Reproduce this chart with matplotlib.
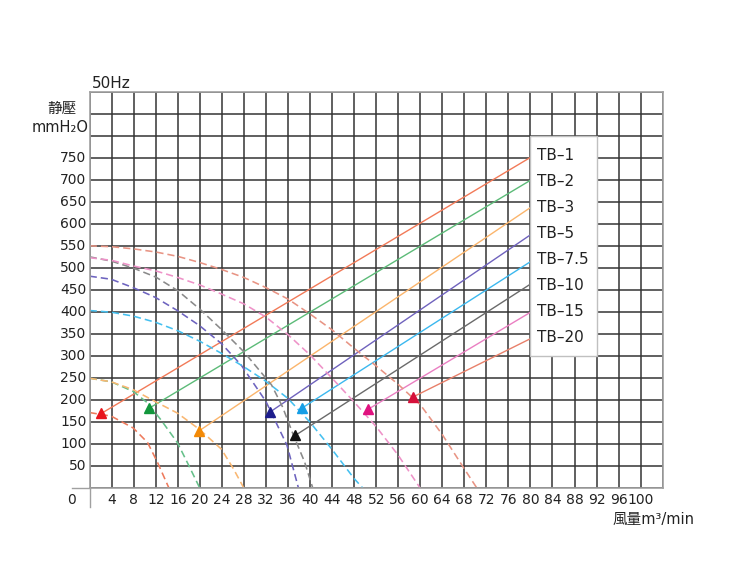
import matplotlib
matplotlib.use("Agg")
import matplotlib.pyplot as plt
from matplotlib.patches import Rectangle

plt.rcParams['font.family'] = ['DejaVu Sans', 'Noto Sans CJK TC']

# models
models = ['TB–1', 'TB–2', 'TB–3', 'TB–5', 'TB–7.5', 'TB–10', 'TB–15', 'TB–20']

# fan curves (flow m3/min, static pressure mmH2O)
q_tb1 = [0, 3.9, 7.9, 10.5, 12.3, 14.4]
p_tb1 = [172, 164, 137, 104, 59, 0]
q_tb2 = [0, 3.9, 7.9, 10.5, 12.9, 15.9, 17.7, 20]
p_tb2 = [250, 242, 220, 194, 156, 104, 59, 0]
q_tb3 = [0, 3.9, 7.9, 11.9, 15.9, 19.9, 23.9, 26.1, 28]
p_tb3 = [250, 242, 224, 197, 171, 134, 89, 44, 0]
q_tb5 = [0, 3.9, 7.9, 11.9, 15.9, 19.9, 23.9, 27.5, 32.0, 35.8, 37.9]
p_tb5 = [482, 475, 456, 434, 404, 370, 329, 280, 197, 98, 0]
q_tb75 = [0, 4, 8, 12, 16, 20, 24, 28, 32, 36, 40, 44, 48, 49.6]
p_tb75 = [404, 400, 391, 377, 358, 334, 306, 276, 243, 204, 150, 88, 22, 0]
q_tb10 = [0, 4, 8, 12, 16, 20, 24, 28, 30, 33, 35, 37, 39, 40.5]
p_tb10 = [526, 516, 500, 480, 449, 407, 360, 310, 280, 235, 185, 120, 60, 0]
q_tb15 = [0, 4, 8, 12, 16, 20, 24, 28, 32, 36, 40, 44, 48, 52, 56, 60]
p_tb15 = [524, 518, 505, 494, 479, 462, 441, 419, 389, 349, 303, 250, 196, 140, 75, 0]
q_tb20 = [0, 4, 8, 12, 16, 20, 24, 28, 32, 36, 40, 44, 48, 52, 56, 60, 64, 68, 70.3]
p_tb20 = [551, 549, 544, 537, 527, 513, 497, 479, 456, 430, 396, 360, 318, 278, 236, 190, 122, 44, 0]

fan_q = [q_tb1, q_tb2, q_tb3, q_tb5, q_tb75, q_tb10, q_tb15, q_tb20]
fan_p = [p_tb1, p_tb2, p_tb3, p_tb5, p_tb75, p_tb10, p_tb15, p_tb20]

# straight lines: start point (arrow) -> end at the label box
start_q = [2.1, 10.8, 19.8, 32.7, 38.5, 37.3, 50.6, 58.6]
start_p = [170, 182, 130, 173, 182, 120, 180, 207]
end_q = [80, 80, 80, 80, 80, 80, 80, 80]
end_p = [752, 700, 638, 576, 515, 464, 400, 340]

line_colors = ['#f27a58', '#5cbb78', '#fbb56c', '#6f62bd', '#3bb8ef', '#6a6a6a', '#ea7fc2', '#e8806a']
dash_colors = ['#ee7a5c', '#66c08a', '#f9b772', '#6d63bf', '#45c0f0', '#8a8a8a', '#ee92c8', '#e89484']
arrow_colors = ['#e8141c', '#12973c', '#f38a06', '#1d1d8c', '#159ee6', '#111111', '#e0117f', '#d5103a']

x_ticks = list(range(0, 105, 4))
y_ticks = list(range(0, 901, 50))
x_labels = list(range(4, 101, 4))
y_labels = list(range(50, 751, 50))

fig = plt.figure(figsize=(7.45, 5.62), dpi=100)
ax = fig.add_axes([0.1204, 0.1312, 0.7691, 0.7046])
ax.set_xlim(0, 104)
ax.set_ylim(0, 900)
ax.set_xticks(x_ticks)
ax.set_yticks(y_ticks)
ax.tick_params(length=0, labelbottom=False, labelleft=False)
ax.grid(True, color='#343434', lw=1.1)
ax.set_axisbelow(True)
for s in ax.spines.values():
    s.set_color('#a0a0a0')
    s.set_linewidth(1.2)

for i in range(len(models)):
    ax.plot(fan_q[i], fan_p[i], color=dash_colors[i], lw=1.15, ls=(0, (4.5, 2.5)), zorder=2)
    ax.plot([start_q[i], end_q[i]], [start_p[i], end_p[i]], color=line_colors[i], lw=1.0, zorder=2)
    ax.plot(start_q[i], start_p[i], marker='^', ms=6.5, color=arrow_colors[i], mec=arrow_colors[i], zorder=4)

# label box, labels evenly spaced inside it
ax.add_patch(Rectangle((80, 300), 12, 500, facecolor='white', edgecolor='#c0c0c0', lw=1.0, zorder=3))
label_y = [757, 698, 639, 579, 520, 461, 402, 343]
for i in range(len(models)):
    ax.text(81.1, label_y[i], models[i], fontsize=11, va='center', ha='left', color='#222222', zorder=5)

# axis extensions
ax.plot([-3.2, 0], [0, 0], color='#a0a0a0', lw=1.0, clip_on=False)
ax.plot([0, 0], [0, -42], color='#a0a0a0', lw=1.0, clip_on=False)

for v in y_labels:
    ax.text(-0.6, v, str(v), ha='right', va='center', fontsize=10, color='#222222')
for v in x_labels:
    ax.text(v, -26, str(v), ha='center', va='center', fontsize=10, color='#222222')
ax.text(-3.3, -26, '0', ha='center', va='center', fontsize=10, color='#222222')

ax.text(-5.0, 864, '静壓', ha='center', va='center', fontsize=10.5, color='#222222')
ax.text(-5.4, 819, 'mmH₂O', ha='center', va='center', fontsize=10.5, color='#222222')
ax.text(0.4, 919, '50Hz', ha='left', va='center', fontsize=11, color='#222222')
ax.text(109.8, -72, '風量m³/min', ha='right', va='center', fontsize=10.5, color='#222222')

fig.savefig('out.png', dpi=100)
